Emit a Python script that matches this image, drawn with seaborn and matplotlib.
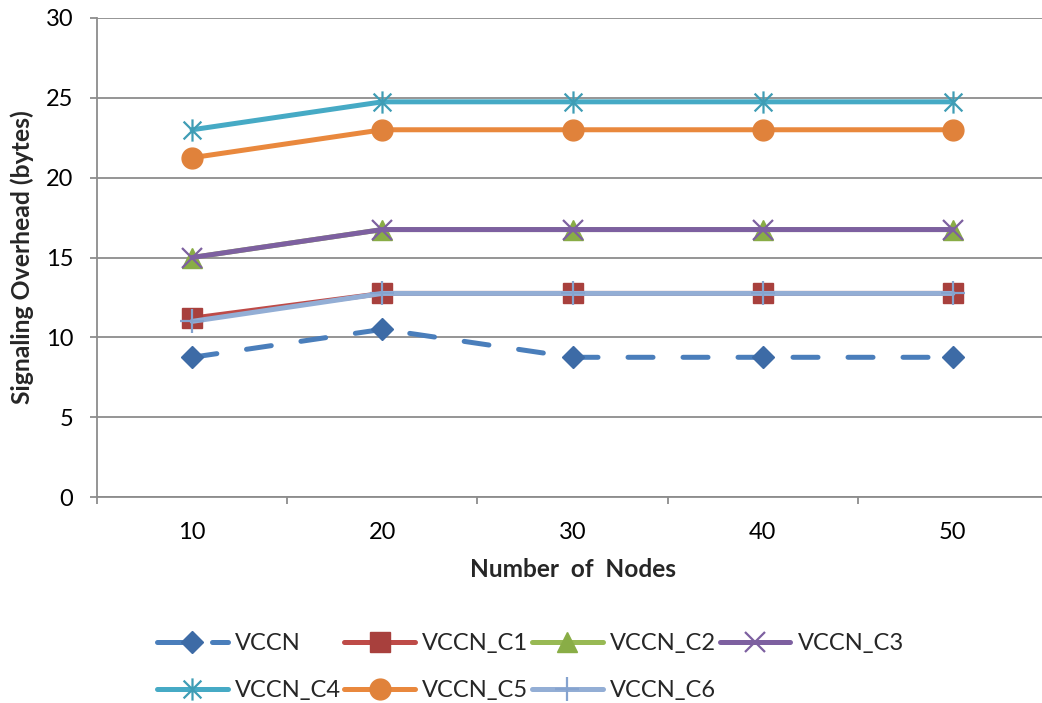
import numpy as np
import pandas as pd
import matplotlib
matplotlib.use("Agg")
import matplotlib.pyplot as plt
from matplotlib.path import Path
import seaborn as sns

# ---- data ----
nodes = [10, 20, 30, 40, 50]
vccn = [8.75, 10.5, 8.75, 8.75, 8.75]
vccn_c1 = [11.2, 12.75, 12.75, 12.75, 12.75]
vccn_c2 = [15.0, 16.75, 16.75, 16.75, 16.75]
vccn_c3 = [15.0, 16.75, 16.75, 16.75, 16.75]
vccn_c4 = [23.0, 24.75, 24.75, 24.75, 24.75]
vccn_c5 = [21.25, 23.0, 23.0, 23.0, 23.0]
vccn_c6 = [11.0, 12.75, 12.75, 12.75, 12.75]
series_names = ["VCCN", "VCCN_C1", "VCCN_C2", "VCCN_C3", "VCCN_C4", "VCCN_C5", "VCCN_C6"]
y_ticks = [0, 5, 10, 15, 20, 25, 30]

series_values = [vccn, vccn_c1, vccn_c2, vccn_c3, vccn_c4, vccn_c5, vccn_c6]

sns.set_theme(style="white")
plt.rcParams['font.family'] = ['Lato', 'DejaVu Sans']

FS = 17

fig = plt.figure(figsize=(10.42, 7.03), dpi=100)
ax = fig.add_axes([97/1042, 1 - 497/703, 951/1042, 479/703])

# asterisk marker
ast = Path([(0, -1), (0, 1), (-0.8, -0.8), (0.8, 0.8), (-0.8, 0.8), (0.8, -0.8)],
           [Path.MOVETO, Path.LINETO, Path.MOVETO, Path.LINETO, Path.MOVETO, Path.LINETO])

styles = {
    "VCCN":    dict(color="#4A7EBB", marker="D", ms=11, mfc="#3D6BA6", mec="#3D6BA6", mew=1, dashes=(5, 6)),
    "VCCN_C1": dict(color="#BE4B48", marker="s", ms=14, mfc="#A8403D", mec="#A8403D", mew=1),
    "VCCN_C2": dict(color="#98B954", marker="^", ms=15, mfc="#89AD46", mec="#89AD46", mew=1),
    "VCCN_C3": dict(color="#7D60A0", marker="x", ms=14, mfc="none", mec="#7D60A0", mew=1.6),
    "VCCN_C4": dict(color="#46AAC5", marker=ast, ms=16, mfc="none", mec="#3F9DB5", mew=1.6),
    "VCCN_C5": dict(color="#E9883D", marker="o", ms=15, mfc="#E0823B", mec="#E0823B", mew=1),
    "VCCN_C6": dict(color="#93AED5", marker="+", ms=17, mfc="none", mec="#85A3CF", mew=1.6),
}

handles = {}
for name, vals in zip(series_names, series_values):
    st = dict(styles[name])
    df = pd.DataFrame({"nodes": nodes, "value": vals})
    dashes = st.pop("dashes", None)
    kw = dict(color=st["color"], marker=st["marker"], markersize=st["ms"],
              markerfacecolor=st["mfc"], markeredgecolor=st["mec"], markeredgewidth=st["mew"],
              linewidth=3.6, solid_capstyle="round", dash_capstyle="round", label=name)
    sns.lineplot(data=df, x="nodes", y="value", ax=ax, legend=False, **kw)
    line = ax.lines[-1]
    if dashes is not None:
        line.set_dashes(dashes)
    handles[name] = line

# axes styling
ax.set_ylim(0, 30)
ax.set_xlim(5, 55)
ax.set_yticks(y_ticks)
ax.set_xticks(nodes)
ax.set_xticklabels([str(n) for n in nodes])
ax.set_xticks([5, 15, 25, 35, 45, 55], minor=True)
ax.yaxis.grid(True, color="#8C8C8C", linewidth=1.3)
ax.xaxis.grid(False)
ax.set_axisbelow(True)
for s in ["top", "right"]:
    ax.spines[s].set_visible(False)
for s in ["left", "bottom"]:
    ax.spines[s].set_color("#8C8C8C")
    ax.spines[s].set_linewidth(1.3)
ax.tick_params(axis="x", which="major", length=0, pad=18, labelsize=FS, colors="black")
ax.tick_params(axis="x", which="minor", length=5, width=1.3, color="#8C8C8C", direction="out", bottom=True)
ax.tick_params(axis="y", which="major", length=5, width=1.3, color="#8C8C8C", direction="out",
               pad=12, labelsize=FS, left=True, labelcolor="black")

ax.set_xlabel("Number  of  Nodes", fontsize=17.6, fontweight="bold")
ax.set_ylabel("Signaling Overhead (bytes)", fontsize=17.8, fontweight="bold")
ax.xaxis.set_label_coords(0.5, -0.128)
ax.yaxis.set_label_coords(-0.066, 0.5)

order = ["VCCN", "VCCN_C4", "VCCN_C1", "VCCN_C5", "VCCN_C2", "VCCN_C6", "VCCN_C3"]
fig.legend([handles[n] for n in order], order, ncol=4, loc="upper left",
           bbox_to_anchor=(157/1042, 1 - 633/703), frameon=False, fontsize=FS,
           handlelength=3.0, handletextpad=0.3, columnspacing=0.15, labelspacing=1.12,
           borderpad=0, borderaxespad=0, numpoints=1)

fig.savefig("out.png", dpi=100)
